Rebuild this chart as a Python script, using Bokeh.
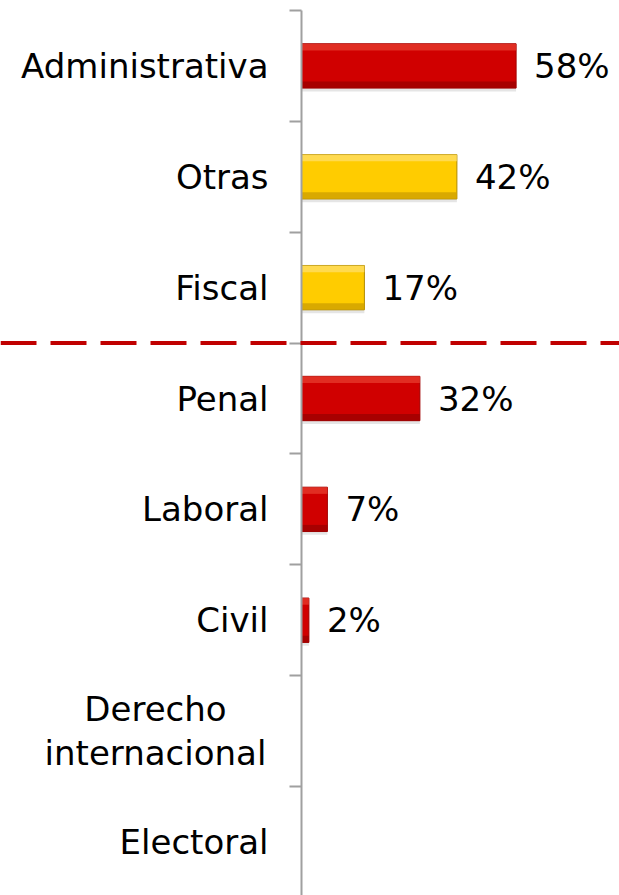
from bokeh.plotting import figure
from bokeh.models import Range1d, LinearAxis, FixedTicker, Span, ColumnDataSource
from bokeh.embed import file_html
from bokeh.resources import INLINE
from bokeh.core.properties import value

# ---- data ----
categories = ["Administrativa", "Otras", "Fiscal", "Penal", "Laboral", "Civil",
              "Derecho\ninternacional", "Electoral"]
values = [58, 42, 17, 32, 7, 2, 0, 0]
groups = ["red", "yellow", "yellow", "red", "red", "red", "red", "red"]
split_after = 3  # dashed separator after the first three categories

# ---- style / layout ----
W, H = 619, 895
AXIS_PX = 301
PX_PER_UNIT = 3.7
ROW_PX = 110.86
TOP_PX = 10
BAR_H = 0.4
STRIP = 0.06
FONT = "DejaVu Sans"
FONT_SIZE = "34px"
LABEL_STANDOFF = 21
MULTI_CENTER_OFFSET = -146

palette = {
    "red": dict(main="#D00000", light="#E84030", dark="#9C0000", edge="#A00000"),
    "yellow": dict(main="#FFCC00", light="#FFE070", dark="#CFA000", edge="#B08A00"),
}

x_start = -AXIS_PX / PX_PER_UNIT
x_end = (W - AXIS_PX) / PX_PER_UNIT
y_top = 0.5 - TOP_PX / ROW_PX
y_bottom = y_top + H / ROW_PX

ys = [i + 1 for i in range(len(categories))]
idx = [i for i, v in enumerate(values) if v > 0]
src = ColumnDataSource(dict(
    y=[ys[i] for i in idx],
    y_top=[ys[i] - BAR_H / 2 + STRIP / 2 for i in idx],
    y_bot=[ys[i] + BAR_H / 2 - STRIP / 2 for i in idx],
    y_sh=[ys[i] + 0.03 for i in idx],
    v=[values[i] for i in idx],
    label=[f"{values[i]}%" for i in idx],
    main=[palette[groups[i]]["main"] for i in idx],
    light=[palette[groups[i]]["light"] for i in idx],
    dark=[palette[groups[i]]["dark"] for i in idx],
    edge=[palette[groups[i]]["edge"] for i in idx],
))

p = figure(width=W, height=H, x_range=Range1d(x_start, x_end),
           y_range=Range1d(y_bottom, y_top), output_backend="svg",
           toolbar_location=None, min_border=0, x_axis_type=None, y_axis_type=None)
p.outline_line_color = None
p.background_fill_color = "white"

# shadow
p.hbar(y="y_sh", left=0, right="v", height=BAR_H, source=src,
       fill_color="#000000", fill_alpha=0.10, line_color=None)
# main bar
p.hbar(y="y", left=0, right="v", height=BAR_H, source=src,
       fill_color="main", line_color="edge", line_width=1)
# bevel highlights
p.hbar(y="y_top", left=0, right="v", height=STRIP, source=src,
       fill_color="light", fill_alpha=0.7, line_color=None)
p.hbar(y="y_bot", left=0, right="v", height=STRIP, source=src,
       fill_color="dark", fill_alpha=0.8, line_color=None)

# value labels
p.text(x="v", y="y", text="label", source=src, x_offset=18,
       text_baseline="middle", text_align="left",
       text_font=value(FONT), text_font_size=FONT_SIZE, text_color="black")

# axis at x = 0 with ticks at category boundaries
single = [c if "\n" not in c else "" for c in categories]
yaxis = LinearAxis(fixed_location=0,
                   ticker=FixedTicker(ticks=ys, minor_ticks=[y - 0.5 for y in ys] + [ys[-1] + 0.5]),
                   bounds=(0.5, len(categories) + 0.5))
yaxis.major_label_overrides = {y: c for y, c in zip(ys, single)}
yaxis.major_tick_out = 0
yaxis.major_tick_in = 0
yaxis.minor_tick_out = 12
yaxis.minor_tick_in = 0
yaxis.minor_tick_line_color = "#A0A0A0"
yaxis.minor_tick_line_width = 2
yaxis.axis_line_color = "#A0A0A0"
yaxis.axis_line_width = 2
yaxis.major_label_standoff = LABEL_STANDOFF
yaxis.major_label_text_font = FONT
yaxis.major_label_text_font_size = FONT_SIZE
yaxis.major_label_text_color = "black"
p.add_layout(yaxis, "left")

# multi-line category labels, centred lines
multi = [(y, c) for y, c in zip(ys, categories) if "\n" in c]
p.text(x=[0] * len(multi), y=[m[0] for m in multi], text=[m[1] for m in multi],
       x_offset=MULTI_CENTER_OFFSET, text_align="center", text_baseline="middle",
       text_line_height=1.12, text_font=value(FONT), text_font_size=FONT_SIZE,
       text_color="black")

# dashed separator
p.add_layout(Span(location=split_after + 0.5, dimension="width",
                  line_color="#C00000", line_width=4, line_dash="36 14"))

open("out.html", "w").write(file_html(p, INLINE))
